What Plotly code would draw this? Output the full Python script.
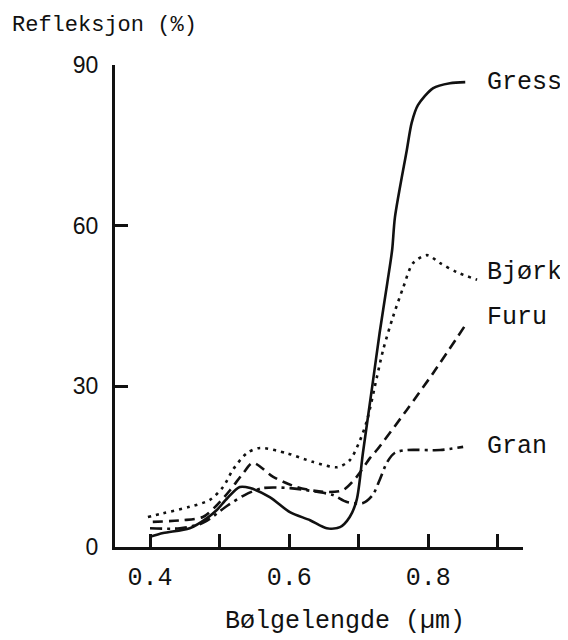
import plotly.graph_objects as go

# wavelength (µm) and reflectance (%)
gress_x = [0.400, 0.419, 0.457, 0.482, 0.496, 0.511, 0.529, 0.544, 0.572, 0.601, 0.630, 0.654, 0.673,
           0.687, 0.697, 0.706, 0.720, 0.730, 0.741, 0.748, 0.752, 0.769, 0.776, 0.785, 0.807, 0.831, 0.853]
gress_y = [1.9, 2.6, 3.5, 5.4, 6.9, 9.1, 11.2, 11.0, 9.3, 6.5, 5.0, 3.5, 3.7,
           5.6, 8.8, 17.6, 30.6, 40.0, 49.3, 55.5, 61.6, 74.1, 79.2, 82.5, 85.7, 86.6, 86.8]

bjork_x = [0.397, 0.419, 0.457, 0.486, 0.505, 0.519, 0.539, 0.558, 0.597, 0.634, 0.669, 0.687,
           0.702, 0.712, 0.726, 0.735, 0.749, 0.764, 0.778, 0.798, 0.817, 0.841, 0.870]
bjork_y = [5.6, 6.3, 7.5, 8.8, 11.2, 14.4, 17.5, 18.5, 17.5, 15.9, 14.9, 16.2,
           20.0, 23.7, 31.7, 36.8, 42.9, 48.5, 53.0, 54.5, 53.0, 51.3, 49.9]

furu_x = [0.404, 0.447, 0.476, 0.496, 0.515, 0.534, 0.548, 0.577, 0.611, 0.649, 0.677, 0.697,
          0.716, 0.726, 0.769, 0.807, 0.853]
furu_y = [4.7, 5.0, 5.6, 7.8, 10.6, 13.8, 15.7, 13.1, 11.2, 10.3, 10.6, 13.1,
          16.6, 18.1, 25.6, 32.5, 41.4]

gran_x = [0.400, 0.443, 0.476, 0.511, 0.536, 0.562, 0.601, 0.640, 0.663, 0.683, 0.706, 0.720,
          0.730, 0.741, 0.752, 0.769, 0.817, 0.850]
gran_y = [3.5, 3.5, 4.5, 7.7, 9.7, 11.0, 11.0, 10.3, 9.7, 8.4, 8.2, 9.7,
          12.5, 15.9, 17.6, 18.1, 18.1, 18.7]

x_ticks = [0.4, 0.5, 0.6, 0.7, 0.8, 0.9]
x_tick_text = ["0.4", "", "0.6", "", "0.8", ""]
y_ticks = [0, 30, 60, 90]
y_tick_text = ["0", "30", "60", "90"]

labels = ["Gress", "Bjørk", "Furu", "Gran"]
label_y = [86.8, 51.2, 42.8, 18.7]

MONO = "Liberation Mono"
INK = "#111111"

fig = go.Figure()
series = [
    (gress_x, gress_y, "solid"),
    (bjork_x, bjork_y, "3px,5px"),
    (furu_x, furu_y, "10px,6px"),
    (gran_x, gran_y, "12px,5px,3px,5px"),
]
for xs, ys, dash in series:
    fig.add_trace(go.Scatter(x=xs, y=ys, mode="lines",
                             line=dict(color=INK, width=2.6, dash=dash, shape="spline", smoothing=0.8),
                             showlegend=False, hoverinfo="skip"))

for name, ly in zip(labels, label_y):
    fig.add_annotation(x=0.882, y=ly, xref="x", yref="y", text=name, showarrow=False,
                       xanchor="left", yanchor="middle",
                       font=dict(family=MONO, size=25, color=INK))

fig.add_annotation(x=-0.2574, y=1.081, xref="paper", yref="paper", text="Refleksjon (%)",
                   showarrow=False, xanchor="left", yanchor="middle",
                   font=dict(family=MONO, size=22, color=INK))
fig.add_annotation(x=0.5637, y=-0.1556, xref="paper", yref="paper", text="Bølgelengde (µm)",
                   showarrow=False, xanchor="center", yanchor="middle",
                   font=dict(family=MONO, size=25, color=INK))

fig.update_layout(
    width=560, height=632,
    margin=dict(l=107, r=45, t=57, b=93),
    paper_bgcolor="white", plot_bgcolor="white",
    xaxis=dict(range=[0.3497, 0.936], showgrid=False, zeroline=False,
               showline=True, linecolor=INK, linewidth=3,
               tickmode="array", tickvals=x_ticks, ticktext=x_tick_text,
               ticks="inside", ticklen=13, tickwidth=2.5, tickcolor=INK,
               ticklabelstandoff=5,
               tickfont=dict(family=MONO, size=25, color=INK)),
    yaxis=dict(range=[0, 90], showgrid=False, zeroline=False,
               showline=True, linecolor=INK, linewidth=3,
               tickmode="array", tickvals=y_ticks, ticktext=y_tick_text,
               ticks="inside", ticklen=13, tickwidth=2.5, tickcolor=INK,
               ticklabelstandoff=9,
               tickfont=dict(family="Liberation Sans", size=23, color=INK)),
)

fig.write_html("out.html")
